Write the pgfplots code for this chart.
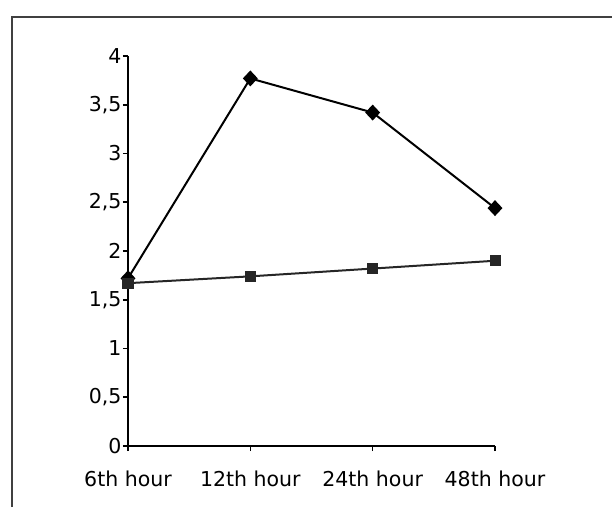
\documentclass[border=0pt]{standalone}
\usepackage{pgfplots}
\pgfplotsset{compat=1.18}
\usepackage{fontspec}
\setmainfont{DejaVu Sans}

\begin{document}
\begin{tikzpicture}
\useasboundingbox (-128pt,-61pt) rectangle (484pt,446pt);
% chart area frame (cut off at right and bottom)
\draw[black!75, line width=1.6pt] (-116pt,-61pt) -- (-116pt,429pt) -- (484pt,429pt);
\begin{axis}[
    at={(0pt,0pt)}, anchor=south west,
    scale only axis,
    width=367pt, height=390pt,
    xmin=0, xmax=3, ymin=0, ymax=4,
    axis lines=left,
    axis line style={-, line width=2.2pt},
    xtick={0,1,2,3},
    xticklabels={6th hour, 12th hour, 24th hour, 48th hour},
    ytick={0,0.5,1,1.5,2,2.5,3,3.5,4},
    tick align=outside,
    major tick length=5pt,
    tick style={line width=1.6pt, black},
    /pgf/number format/use comma,
    /pgf/number format/assume math mode=true,
    ticklabel style={font=\fontsize{20.5}{23}\selectfont, text=black},
    xticklabel style={yshift=-16pt},
    yticklabel style={xshift=2pt},
    clip=false,
]
\addplot[black, line width=2pt, mark=diamond*,
    mark options={xscale=1.25, solid}, mark size=6.5pt] coordinates {
    (0, 1.72)
    (1, 3.77)
    (2, 3.42)
    (3, 2.44)
};
\addplot[black!85, line width=2pt, mark=square*, mark size=4.5pt] coordinates {
    (0, 1.67)
    (1, 1.74)
    (2, 1.82)
    (3, 1.90)
};
\end{axis}
\end{tikzpicture}
\end{document}
